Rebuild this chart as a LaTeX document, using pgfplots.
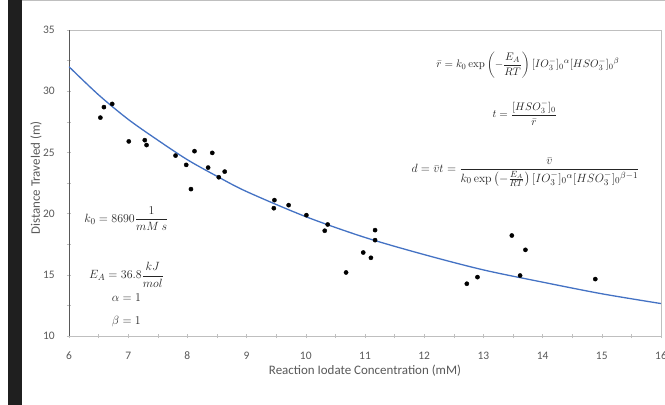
\documentclass[border=0pt]{standalone}
\usepackage{amsmath}
\usepackage[no-math]{fontspec}
\setmainfont{Carlito}
\usepackage{pgfplots}
\pgfplotsset{compat=1.18}
\definecolor{fitblue}{RGB}{68,114,196}
\definecolor{labelgray}{RGB}{89,89,89}
\definecolor{boxgray}{RGB}{191,191,191}
\newcommand{\ticksize}{\fontsize{11.5}{13}\selectfont}
\newcommand{\titlesize}{\fontsize{13}{15}\selectfont}

\begin{document}
\begin{tikzpicture}
% page frame: 665 x 405 px, plot area from (69,30) to (661,336)
\useasboundingbox (-69bp,-69bp) rectangle (596bp,336bp);
\clip (-69bp,-69bp) rectangle (596bp,336bp);
\fill[white] (-69bp,-69bp) rectangle (596bp,336bp);
\fill[black!88] (-61bp,-69bp) rectangle (-47bp,336bp);
\draw[boxgray, line width=1bp] (-47bp,335bp) -- (596bp,335bp);

\begin{axis}[
    at={(0,0)}, anchor=south west,
    scale only axis,
    width=592bp, height=306bp,
    xmin=6, xmax=16,
    ymin=10, ymax=35,
    xtick={6,7,...,16},
    ytick={10,15,...,35},
    minor x tick num=1,
    minor y tick num=1,
    tick align=center,
    major tick length=4bp,
    minor tick length=4bp,
    tick style={boxgray, line width=0.6bp},
    xtick pos=bottom, ytick pos=left,
    axis line style={boxgray, line width=0.8bp},
    /pgf/number format/assume math mode=true,
    xticklabel={\ticksize\pgfmathprintnumber{\tick}},
    yticklabel={\ticksize\pgfmathprintnumber{\tick}},
    tick label style={text=labelgray},
    xticklabel style={anchor=center, yshift=-18bp},
    yticklabel style={anchor=east, inner sep=0pt, xshift=-12bp},
    xlabel={\titlesize Reaction Iodate Concentration (mM)},
    ylabel={\titlesize Distance Traveled (m)},
    every axis x label/.style={at={(axis description cs:0.5,-0.114)}, anchor=center, text=labelgray},
    every axis y label/.style={at={(axis description cs:-0.0557,0.516)}, rotate=90, anchor=center, text=labelgray},
]
\draw[labelgray, line width=0.8bp] (rel axis cs:0,0) -- (rel axis cs:0,1);

\addplot[fitblue, line width=1.3bp, smooth] coordinates {
    (6,32.0)(6.5,29.7)(7,27.7)(7.5,26.0)(8,24.4)(8.5,23.05)(9,21.8)
    (10,19.75)(11,18.05)(12,16.65)(13,15.4)(14,14.4)(15,13.45)(16,12.65)
};

\addplot[only marks, mark=*, mark size=2.1bp, black] coordinates {
    (6.53,27.84)(6.59,28.70)(6.73,28.96)(7.01,25.90)(7.28,26.00)(7.31,25.60)
    (7.80,24.74)(7.98,23.98)(8.06,22.00)(8.12,25.10)(8.35,23.76)(8.42,24.96)
    (8.53,22.97)(8.63,23.43)
    (9.47,21.10)(9.46,20.44)(9.71,20.69)(10.01,19.87)(10.37,19.11)(10.32,18.60)
    (10.68,15.19)(10.97,16.82)(11.10,16.39)(11.17,18.65)(11.17,17.83)
    (12.72,14.27)(12.90,14.81)(13.48,18.21)(13.71,17.04)(13.62,14.94)(14.89,14.65)
};

\begin{scope}[every node/.style={text=black!85}]
\node[font=\fontsize{12.5}{14}\selectfont] at (axis cs:6.97,19.57) {$\displaystyle k_0 = 8690\frac{1}{mM\ s}$};
\node[font=\fontsize{12.5}{14}\selectfont] at (axis cs:6.97,15.0) {$\displaystyle E_A = 36.8\frac{kJ}{mol}$};
\node[font=\fontsize{12.5}{14}\selectfont] at (axis cs:6.97,13.1) {$\alpha = 1$};
\node[font=\fontsize{12.5}{14}\selectfont] at (axis cs:6.97,11.2) {$\beta = 1$};

\node[font=\fontsize{11}{13}\selectfont] at (axis cs:13.75,32.14) {$\displaystyle \bar r = k_0 \exp\left(-\frac{E_A}{RT}\right)[IO_3^-]_0{}^{\alpha}[HSO_3^-]_0{}^{\beta}$};
\node[font=\fontsize{11}{13}\selectfont] at (axis cs:13.7,28.2) {$\displaystyle t = \frac{[HSO_3^-]_0}{\bar r}$};
\node[font=\fontsize{12.5}{14}\selectfont] at (axis cs:13.71,23.4) {$\displaystyle d = \bar v t = \frac{\bar v}{k_0 \exp\left(-\tfrac{E_A}{RT}\right)[IO_3^-]_0{}^{\alpha}[HSO_3^-]_0{}^{\beta-1}}$};
\end{scope}
\end{axis}
\end{tikzpicture}
\end{document}
